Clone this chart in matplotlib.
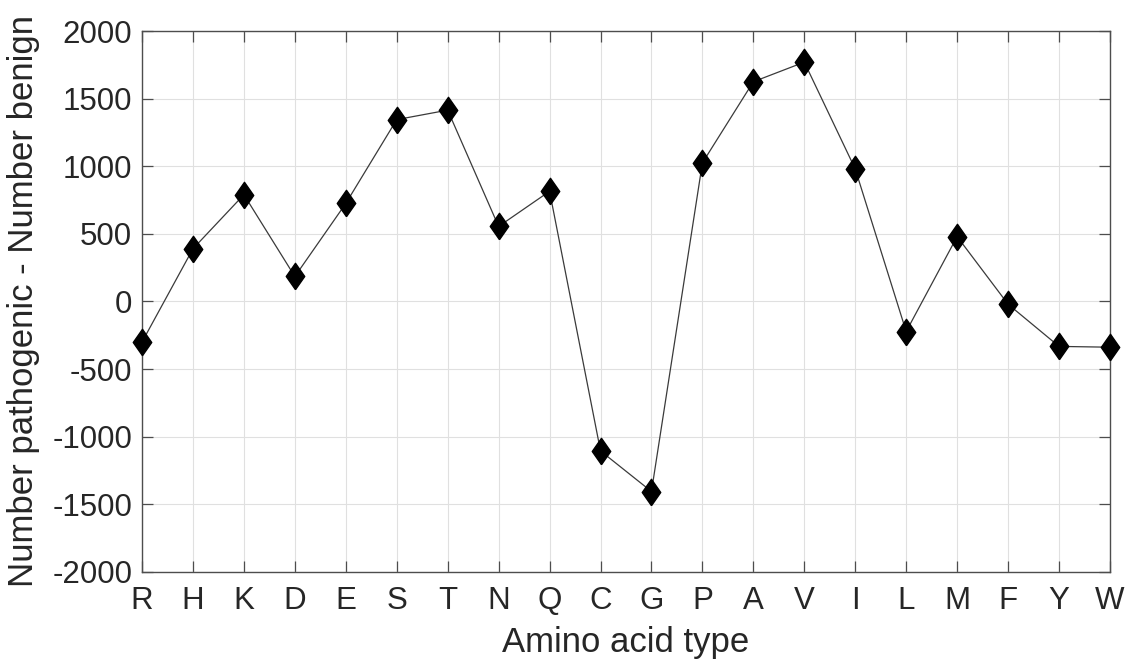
import numpy as np
from matplotlib import pyplot as plt

# amino acids, ordered as on the x axis
amino = ['R', 'H', 'K', 'D', 'E', 'S', 'T', 'N', 'Q', 'C',
         'G', 'P', 'A', 'V', 'I', 'L', 'M', 'F', 'Y', 'W']
# number pathogenic minus number benign
diff = [-300, 390, 790, 185, 725, 1345, 1415, 555, 815, -1105,
        -1405, 1025, 1625, 1770, 980, -222, 480, -20, -332, -338]

plt.rcParams['font.family'] = ['Liberation Sans', 'DejaVu Sans']
plt.rcParams['axes.unicode_minus'] = False

fig = plt.figure(figsize=(11.28, 6.63), dpi=100)
ax = fig.add_axes([0.1259, 0.1373, 0.8581, 0.8159])

x = np.arange(1, len(amino) + 1)
diamond = [(0, -1), (0.7, 0), (0, 1), (-0.7, 0), (0, -1)]
ax.plot(x, diff, color='#3a3a3a', lw=0.9, marker=diamond, markersize=19,
        markerfacecolor='black', markeredgecolor='black', zorder=3, clip_on=False)

ax.set_xlim(1, len(amino))
ax.set_ylim(-2000, 2000)
ax.set_xticks(x)
ax.set_xticklabels(amino)
ax.set_yticks(np.arange(-2000, 2001, 500))

ax.grid(True, color='#e0e0e0', lw=0.8)
ax.set_axisbelow(True)
for s in ax.spines.values():
    s.set_color('#4d4d4d')
    s.set_linewidth(1.0)
ax.tick_params(direction='in', length=8, width=0.9, color='#4d4d4d',
               top=True, right=True, labelsize=22.5, labelcolor='#262626')
ax.tick_params(axis='x', pad=10)
ax.tick_params(axis='y', pad=7)

ax.set_xlabel('Amino acid type', fontsize=25, color='#262626', va='center')
ax.xaxis.set_label_coords(0.5, -0.131)
ax.set_ylabel('Number pathogenic - Number benign', fontsize=25, color='#262626', va='center')
ax.yaxis.set_label_coords(-0.122, 0.5)

fig.savefig('out.png', dpi=100)
